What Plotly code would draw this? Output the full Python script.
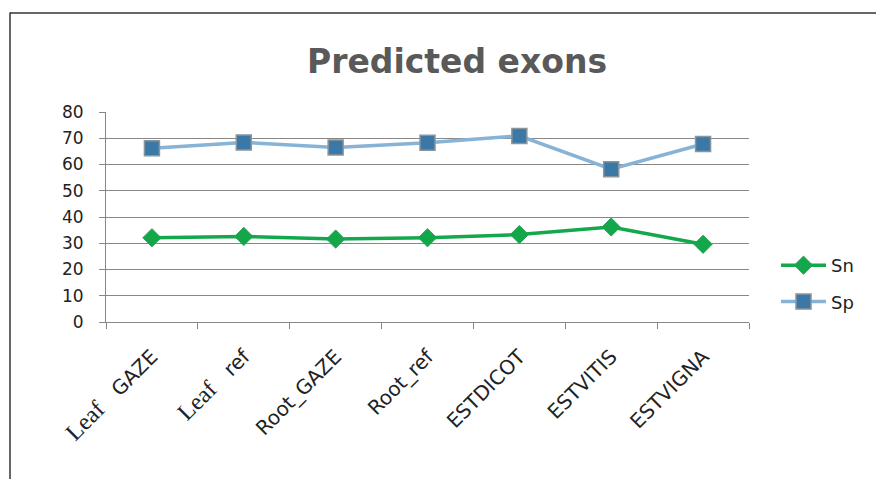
import plotly.graph_objects as go

categories = ["Leaf_GAZE", "Leaf_ref", "Root_GAZE", "Root_ref", "ESTDICOT", "ESTVITIS", "ESTVIGNA"]
tick_labels = [
    '<span style="font-family:Liberation Serif;font-size:24px">Leaf</span>\u00a0\u00a0\u00a0GAZE',
    '<span style="font-family:Liberation Serif;font-size:24px">Leaf</span>\u00a0\u00a0\u00a0ref',
    "Root_GAZE", "Root_ref", "ESTDICOT", "ESTVITIS", "ESTVIGNA",
]
sn_values = [32.1, 32.6, 31.6, 32.1, 33.3, 36.2, 29.6]
sp_values = [66.2, 68.4, 66.5, 68.3, 70.9, 58.2, 67.8]

W, H = 876, 479
ML, MR, MT, MB = 106, 127, 112, 157
pw, ph = W - ML - MR, H - MT - MB
FONT = "DejaVu Sans, Liberation Sans, Arial"

fig = go.Figure()
fig.add_trace(go.Scatter(
    x=categories, y=sn_values, name="Sn", mode="lines+markers",
    line=dict(color="#13A84B", width=3.5),
    marker=dict(symbol="diamond", size=14, color="#12A84A",
                line=dict(color="#2E9E58", width=1)),
    legendgroup="a",
))
fig.add_trace(go.Scatter(
    x=categories, y=sp_values, name="Sp", mode="lines+markers",
    line=dict(color="#86B3D6", width=3.5),
    marker=dict(symbol="square", size=15, color="#3A79A7",
                line=dict(color="#8A959E", width=1.5)),
    legendgroup="b",
))

def px_to_paper_x(px):
    return (px - ML) / pw

def py_to_paper_y(py):
    return (H - MB - py) / ph

fig.update_layout(
    width=W, height=H,
    margin=dict(l=ML, r=MR, t=MT, b=MB),
    paper_bgcolor="white", plot_bgcolor="white",
    font=dict(family=FONT, color="#222222"),
    title=dict(text="<b>Predicted exons</b>", x=457 / W, xref="container", xanchor="center",
               y=1 - 61 / H, yref="container", yanchor="middle",
               font=dict(size=33, color="#595959", family=FONT)),
    showlegend=True,
    legend=dict(xref="container", yref="container", x=776 / W, y=1 - 247 / H,
                xanchor="left", yanchor="top", font=dict(size=18, color="#222222"),
                tracegroupgap=10, itemwidth=45, bgcolor="rgba(0,0,0,0)"),
    xaxis=dict(
        type="category", tickvals=categories, ticktext=tick_labels,
        tickangle=-45, tickfont=dict(size=20, color="#222222"),
        showgrid=False, showline=True, linecolor="#878787", linewidth=1,
        ticks="outside", ticklen=6, tickcolor="#878787", tickson="boundaries",
        ticklabelstandoff=14, range=[-0.5, 6.5],
    ),
    yaxis=dict(
        range=[0, 80], dtick=10, tickfont=dict(size=17, color="#222222"),
        showgrid=True, gridcolor="#878787", gridwidth=1,
        showline=True, linecolor="#878787", linewidth=1,
        ticks="outside", ticklen=6, tickcolor="#878787",
        ticklabelstandoff=12, zeroline=False,
    ),
    shapes=[
        dict(type="line", xref="paper", yref="paper",
             x0=px_to_paper_x(10), x1=px_to_paper_x(10),
             y0=py_to_paper_y(12.5), y1=py_to_paper_y(H + 2),
             line=dict(color="#333333", width=1.5)),
        dict(type="line", xref="paper", yref="paper",
             x0=px_to_paper_x(10), x1=px_to_paper_x(W + 2),
             y0=py_to_paper_y(13), y1=py_to_paper_y(13),
             line=dict(color="#333333", width=1.5)),
    ],
)

fig.write_html("out.html")
